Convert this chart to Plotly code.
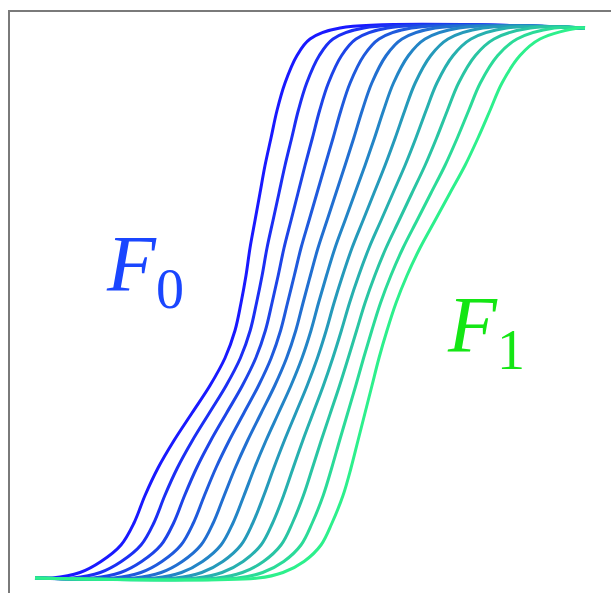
import plotly.graph_objects as go

# probability levels (CDF values), shared by all curves
levels = [0, 0, 0.01, 0.03, 0.06, 0.1, 0.15, 0.2, 0.25, 0.3, 0.35, 0.4, 0.45,
          0.5, 0.55, 0.6, 0.65, 0.7, 0.75, 0.8, 0.85, 0.9, 0.95, 0.98, 1.0, 1.0]

# x positions of each CDF curve at the levels above (F0 -> F1)
x_f00 = [0, 17, 45, 66, 86, 99, 110, 123, 139, 157, 175, 190, 200, 206, 211, 215, 220, 225, 230, 236, 242, 250, 262, 275, 305, 550]
x_f01 = [0, 37.6, 65.3, 86.3, 106, 118.8, 129.8, 142.3, 157.4, 174.3, 191.2, 205.4, 215.2, 221.5, 227.1, 232, 238, 244, 250, 256.7, 263.3, 271.7, 284.3, 298, 328.8, 550]
x_f02 = [0, 58.2, 85.6, 106.6, 126, 138.6, 149.6, 161.6, 175.8, 191.6, 207.4, 220.8, 230.4, 237, 243.2, 249, 256, 263, 270, 277.4, 284.6, 293.4, 306.6, 321, 352.6, 550]
x_f03 = [0, 78.8, 105.9, 126.9, 146, 158.4, 169.4, 180.9, 194.2, 208.9, 223.6, 236.2, 245.6, 252.5, 259.3, 266, 274, 282, 290, 298.1, 305.9, 315.1, 328.9, 344, 376.4, 550]
x_f04 = [0, 99.4, 126.2, 147.2, 166, 178.2, 189.2, 200.2, 212.6, 226.2, 239.8, 251.6, 260.8, 268, 275.4, 283, 292, 301, 310, 318.8, 327.2, 336.8, 351.2, 367, 400.2, 550]
x_f05 = [0, 120, 146.5, 167.5, 186, 198, 209, 219.5, 231, 243.5, 256, 267, 276, 283.5, 291.5, 300, 310, 320, 330, 339.5, 348.5, 358.5, 373.5, 390, 424, 550]
x_f06 = [0, 140.6, 166.8, 187.8, 206, 217.8, 228.8, 238.8, 249.4, 260.8, 272.2, 282.4, 291.2, 299, 307.6, 317, 328, 339, 350, 360.2, 369.8, 380.2, 395.8, 413, 447.8, 550]
x_f07 = [0, 161.2, 187.1, 208.1, 226, 237.6, 248.6, 258.1, 267.8, 278.1, 288.4, 297.8, 306.4, 314.5, 323.7, 334, 346, 358, 370, 380.9, 391.1, 401.9, 418.1, 436, 471.6, 550]
x_f08 = [0, 181.8, 207.4, 228.4, 246, 257.4, 268.4, 277.4, 286.2, 295.4, 304.6, 313.2, 321.6, 330, 339.8, 351, 364, 377, 390, 401.6, 412.4, 423.6, 440.4, 459, 495.4, 550]
x_f09 = [0, 202.4, 227.7, 248.7, 266, 277.2, 288.2, 296.7, 304.6, 312.7, 320.8, 328.6, 336.8, 345.5, 355.9, 368, 382, 396, 410, 422.3, 433.7, 445.3, 462.7, 482, 519.2, 550]
x_f10 = [0, 223, 248, 269, 286, 297, 308, 316, 323, 330, 337, 344, 352, 361, 372, 385, 400, 415, 430, 443, 455, 467, 485, 505, 543, 550]

curves = [x_f00, x_f01, x_f02, x_f03, x_f04, x_f05, x_f06, x_f07, x_f08, x_f09, x_f10]

colors = ["rgb(25,25,255)", "rgb(27,47,244)", "rgb(29,68,232)", "rgb(31,90,221)",
          "rgb(33,111,209)", "rgb(35,133,198)", "rgb(37,154,186)", "rgb(39,176,175)",
          "rgb(41,197,163)", "rgb(43,219,152)", "rgb(45,240,140)"]

label_texts = ["<i>F</i><sub>0</sub>", "<i>F</i><sub>1</sub>"]
label_colors = ["#1a46ff", "#14e614"]

fig = go.Figure()
for xs, col in zip(curves, colors):
    fig.add_trace(go.Scatter(x=xs, y=levels, mode="lines",
                             line=dict(color=col, width=3, shape="spline", smoothing=1.0),
                             hoverinfo="skip", showlegend=False))

fig.add_annotation(x=69, y=0.466, xref="x", yref="y", text=label_texts[0],
                   showarrow=False, xanchor="left", yanchor="bottom",
                   font=dict(family="Liberation Serif", size=80, color=label_colors[0]))
fig.add_annotation(x=410, y=0.355, xref="x", yref="y", text=label_texts[1],
                   showarrow=False, xanchor="left", yanchor="bottom",
                   font=dict(family="Liberation Serif", size=80, color=label_colors[1]))

fig.update_layout(
    width=611, height=593,
    margin=dict(l=10, r=0, t=12, b=0),
    paper_bgcolor="white", plot_bgcolor="white",
    xaxis=dict(range=[-25, 576], side="top", showline=True, linecolor="#7a7a7a",
               linewidth=2, showgrid=False, zeroline=False, showticklabels=False,
               ticks=""),
    yaxis=dict(range=[-0.02727, 1.0291], showline=True, linecolor="#7a7a7a",
               linewidth=2, showgrid=False, zeroline=False, showticklabels=False,
               ticks=""),
)

fig.write_html("out.html", config={"displayModeBar": False},
               post_script="document.body.style.margin='0';")
